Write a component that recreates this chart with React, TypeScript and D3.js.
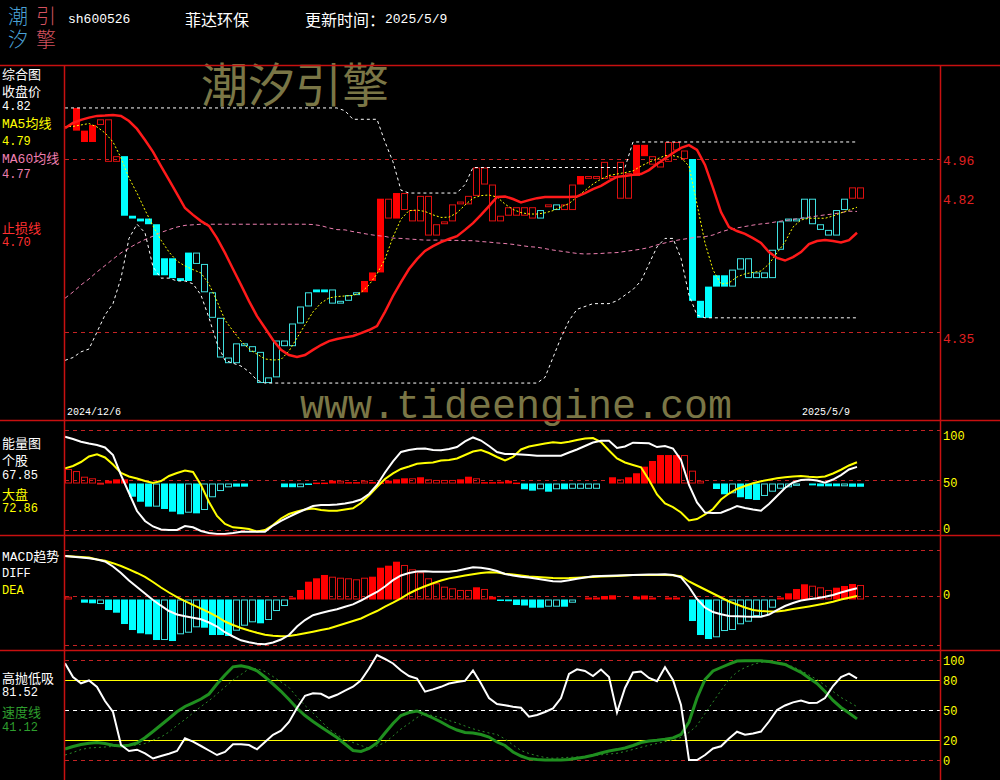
import * as React from "react"
import * as d3 from "d3"

document.body.style.margin = "0"
document.body.style.background = "#000"

// ---- data (100 trading days, 2024/12/6 .. 2025/5/9) ----
// candle kinds: R red filled, r red hollow, C cyan filled, c cyan hollow, - none
const candleKind =
  "-RRRrrrCCCC" + "CCCCCccccc" + "cccccccccc" + "CCccccRRRr" + "Rrrrrrrrrr" +
  "rrrrrrrrcr" + "crrRrrrrrr" + "RRrrrrrCCC" + "CCcccccccc" + "cccccccrr"

const candleOpen = [null, 5.06, 5.02, 5.02, 5.08, 4.95, 4.95, 4.97, 4.76, 4.75, 4.75,
  4.73, 4.61, 4.61, 4.54, 4.63, 4.59, 4.49, 4.40, 4.26, 4.24,
  4.24, 4.30, 4.28, 4.17, 4.17, 4.19, 4.30, 4.30, 4.38, 4.44,
  4.50, 4.50, 4.45, 4.45, 4.46, 4.48, 4.49, 4.53, 4.56, 4.75,
  4.75, 4.78, 4.74, 4.74, 4.69, 4.69, 4.73, 4.74, 4.80, 4.80,
  4.83, 4.87, 4.74, 4.74, 4.76, 4.76, 4.76, 4.75, 4.75, 4.79,
  4.78, 4.78, 4.78, 4.87, 4.89, 4.89, 4.89, 4.89, 4.82, 4.82,
  4.90, 4.97, 4.94, 4.93, 4.95, 4.99, 4.96, 4.96, 4.46, 4.51,
  4.55, 4.55, 4.51, 4.57, 4.54, 4.54, 4.54, 4.54, 4.64, 4.74,
  4.74, 4.75, 4.73, 4.71, 4.69, 4.69, 4.78, 4.82, 4.82]

const candleClose = [null, 5.14, 5.06, 5.08, 5.10, 5.10, 4.97, 4.76, 4.75, 4.74, 4.73,
  4.55, 4.55, 4.54, 4.53, 4.53, 4.63, 4.59, 4.49, 4.40, 4.26,
  4.31, 4.31, 4.30, 4.28, 4.19, 4.32, 4.32, 4.38, 4.44, 4.49,
  4.49, 4.49, 4.50, 4.46, 4.48, 4.49, 4.53, 4.56, 4.82, 4.82,
  4.84, 4.84, 4.78, 4.83, 4.83, 4.73, 4.74, 4.80, 4.81, 4.83,
  4.93, 4.93, 4.87, 4.76, 4.79, 4.79, 4.79, 4.79, 4.78, 4.80,
  4.80, 4.80, 4.87, 4.90, 4.90, 4.90, 4.95, 4.90, 4.95, 4.91,
  5.01, 5.01, 4.97, 4.95, 5.02, 5.02, 4.99, 4.46, 4.40, 4.40,
  4.51, 4.51, 4.57, 4.61, 4.61, 4.56, 4.56, 4.64, 4.74, 4.75,
  4.75, 4.82, 4.82, 4.73, 4.71, 4.78, 4.82, 4.86, 4.86]

const ma5 = [5.074, 5.075, 5.080, 5.085, 5.073, 5.052, 5.020, 4.964, 4.893, 4.840,
  4.780, 4.724, 4.674, 4.632, 4.600, 4.583, 4.570, 4.558, 4.519, 4.459,
  4.392, 4.354, 4.318, 4.290, 4.272, 4.255, 4.251, 4.253, 4.283, 4.329,
  4.375, 4.421, 4.452, 4.470, 4.475, 4.477, 4.479, 4.489, 4.516, 4.555,
  4.607, 4.685, 4.748, 4.778, 4.780, 4.775, 4.763, 4.754, 4.755, 4.770,
  4.798, 4.822, 4.831, 4.833, 4.826, 4.801, 4.782, 4.771, 4.766, 4.766,
  4.770, 4.778, 4.791, 4.803, 4.826, 4.849, 4.872, 4.889, 4.902, 4.907,
  4.912, 4.918, 4.935, 4.949, 4.960, 4.972, 4.972, 4.965, 4.935, 4.801,
  4.664, 4.569, 4.519, 4.523, 4.544, 4.555, 4.560, 4.565, 4.590, 4.629,
  4.667, 4.720, 4.745, 4.751, 4.751, 4.751, 4.759, 4.770, 4.780, 4.790]

const ma60 = [4.469, 4.491, 4.516, 4.537, 4.562, 4.584, 4.607, 4.629, 4.646, 4.662,
  4.676, 4.688, 4.701, 4.711, 4.720, 4.726, 4.728, 4.730, 4.730, 4.730,
  4.730, 4.730, 4.730, 4.730, 4.730, 4.730, 4.730, 4.730, 4.730, 4.730,
  4.730, 4.729, 4.725, 4.717, 4.711, 4.710, 4.704, 4.699, 4.694, 4.690,
  4.687, 4.681, 4.680, 4.678, 4.676, 4.674, 4.674, 4.674, 4.673, 4.673,
  4.672, 4.672, 4.669, 4.667, 4.664, 4.662, 4.659, 4.655, 4.651, 4.649,
  4.644, 4.639, 4.635, 4.631, 4.627, 4.625, 4.626, 4.627, 4.629, 4.630,
  4.634, 4.638, 4.642, 4.648, 4.657, 4.664, 4.671, 4.676, 4.680, 4.685,
  4.686, 4.692, 4.703, 4.711, 4.717, 4.722, 4.727, 4.731, 4.734, 4.739,
  4.743, 4.747, 4.751, 4.755, 4.759, 4.763, 4.766, 4.771, 4.776, 4.775]

const stopLine = [5.069, 5.087, 5.098, 5.106, 5.112, 5.113, 5.115, 5.112, 5.094, 5.066,
  5.027, 4.985, 4.935, 4.886, 4.837, 4.787, 4.763, 4.741, 4.724, 4.681,
  4.629, 4.572, 4.516, 4.459, 4.406, 4.364, 4.322, 4.287, 4.269, 4.262,
  4.269, 4.287, 4.304, 4.318, 4.325, 4.331, 4.336, 4.346, 4.357, 4.371,
  4.421, 4.477, 4.526, 4.572, 4.607, 4.636, 4.653, 4.667, 4.678, 4.688,
  4.710, 4.734, 4.763, 4.794, 4.826, 4.828, 4.819, 4.807, 4.815, 4.822,
  4.826, 4.826, 4.826, 4.826, 4.828, 4.840, 4.854, 4.865, 4.882, 4.897,
  4.900, 4.904, 4.907, 4.921, 4.942, 4.962, 4.981, 4.999, 5.009, 4.992,
  4.939, 4.858, 4.773, 4.720, 4.706, 4.696, 4.681, 4.664, 4.632, 4.611,
  4.602, 4.614, 4.632, 4.660, 4.671, 4.674, 4.671, 4.666, 4.674, 4.700]

const upperBand = [
  5.14, 5.14, 5.14, 5.14, 5.14, 5.14, 5.14, 5.14, 5.14, 5.14,
  5.14, 5.14, 5.14, 5.14, 5.14, 5.14, 5.14, 5.14, 5.14, 5.14,
  5.14, 5.14, 5.14, 5.14, 5.14, 5.14, 5.14, 5.14, 5.14, 5.14,
  5.14, 5.14, 5.14, 5.14, 5.14, 5.13, 5.10, 5.10, 5.10, 5.10,
  5.02, 4.95, 4.85, 4.84, 4.84, 4.84, 4.84, 4.84, 4.84, 4.84,
  4.87, 4.93, 4.93, 4.93, 4.93, 4.93, 4.93, 4.93, 4.93, 4.93,
  4.93, 4.93, 4.93, 4.93, 4.93, 4.93, 4.93, 4.93, 4.93, 4.93,
  4.93, 5.02, 5.02, 5.02, 5.02, 5.02, 5.02, 5.02, 5.02, 5.02,
  5.02, 5.02, 5.02, 5.02, 5.02, 5.02, 5.02, 5.02, 5.02, 5.02,
  5.02, 5.02, 5.02, 5.02, 5.02, 5.02, 5.02, 5.02, 5.02, 5.02]

const lowerBand = [
  4.25, 4.26, 4.28, 4.29, 4.35, 4.41, 4.45, 4.54, 4.68, 4.73,
  4.70, 4.58, 4.54, 4.54, 4.53, 4.53, 4.52, 4.48, 4.40, 4.31,
  4.25, 4.24, 4.23, 4.21, 4.18, 4.17, 4.17, 4.17, 4.17, 4.17,
  4.17, 4.17, 4.17, 4.17, 4.17, 4.17, 4.17, 4.17, 4.17, 4.17,
  4.17, 4.17, 4.17, 4.17, 4.17, 4.17, 4.17, 4.17, 4.17, 4.17,
  4.17, 4.17, 4.17, 4.17, 4.17, 4.17, 4.17, 4.17, 4.17, 4.17,
  4.19, 4.26, 4.33, 4.39, 4.43, 4.44, 4.45, 4.45, 4.45, 4.46,
  4.48, 4.50, 4.53, 4.59, 4.65, 4.68, 4.68, 4.61, 4.48, 4.41,
  4.40, 4.40, 4.40, 4.40, 4.40, 4.40, 4.40, 4.40, 4.40, 4.40,
  4.40, 4.40, 4.40, 4.40, 4.40, 4.40, 4.40, 4.40, 4.40, 4.40]

const energyStock = [100.3, 97.8, 94.9, 93.0, 91.4, 88.7, 80.6, 59.1, 39.8, 20.4,
  9.7, 3.8, 0.5, 0, 0, 4.3, 2.9, -1.1, -3.2, -4.3,
  -4.3, -3.2, -1.8, -1.8, -1.8, -1.8, 4.8, 9.7, 14.0, 18.3,
  22.0, 25.8, 26.9, 26.9, 27.4, 28.5, 30.1, 32.8, 38.7, 48.4,
  61.8, 73.7, 83.9, 86.0, 87.4, 87.6, 86.0, 85.7, 87.1, 89.2,
  95.2, 99.5, 96.2, 90.3, 83.9, 81.7, 81.7, 81.2, 80.6, 79.9,
  79.9, 79.9, 79.9, 83.3, 86.6, 90.3, 94.1, 96.0, 96.0, 88.2,
  89.8, 93.9, 93.5, 93.2, 89.2, 90.3, 87.6, 75.3, 48.4, 29.6,
  18.8, 18.3, 18.6, 22.0, 25.8, 23.7, 22.0, 20.8, 28.0, 36.6,
  45.2, 51.1, 53.8, 54.3, 53.2, 50.9, 54.3, 59.1, 65.1, 67.85]

const energyMarket = [66.3, 68.8, 73.1, 79.0, 81.4, 78.0, 70.4, 61.3, 57.5, 55.4,
  52.7, 50.5, 52.7, 58.1, 61.3, 64.0, 62.4, 48.4, 30.1, 15.1,
  6.5, 2.9, 2.2, 1.1, -1.6, 0, 5.4, 12.4, 17.2, 19.9,
  22.0, 23.1, 21.5, 20.8, 20.8, 22.0, 23.3, 29.0, 37.1, 46.2,
  54.8, 60.8, 65.6, 68.3, 71.3, 72.0, 72.6, 74.7, 75.3, 76.9,
  80.6, 84.4, 86.0, 82.8, 78.5, 74.7, 78.5, 86.6, 89.8, 91.4,
  93.0, 94.3, 93.5, 94.9, 96.8, 98.4, 98.9, 94.6, 85.5, 76.9,
  72.6, 69.9, 67.4, 53.8, 38.2, 28.5, 24.5, 18.8, 10.2, 11.8,
  16.7, 22.6, 32.8, 39.2, 44.1, 47.3, 50.3, 52.4, 54.1, 55.6,
  56.8, 57.5, 58.1, 57.3, 56.7, 57.5, 60.8, 64.8, 69.4, 72.86]

const energyBars = [65.6, 63.4, 57.3, 55.6, 50.9, 53.0, 54.5, 54.5, 35.8, 30.4,
  25.1, 25.1, 22.6, 19.7, 16.9, 18.6, 17.9, 21.5, 35.2, 41.9,
  45.9, 46.6, 46.6, 50, 50, 50, 50, 46.0, 46.0, 46.0,
  48.5, 51.0, 51.0, 53.0, 53.0, 51.5, 51.5, 53.0, 51.5, 51.0,
  53.0, 54.5, 55.6, 55.6, 56.7, 54.5, 53.8, 53.8, 53.8, 54.5,
  57.3, 55.6, 51.5, 51.5, 51.9, 53.0, 51.0, 43.8, 42.3, 43.8,
  41.2, 43.8, 43.8, 44.3, 44.3, 44.3, 44.3, 50, 56.7, 54.5,
  56.7, 61.0, 68.1, 74.2, 80.6, 80.6, 80.6, 80.6, 63.8, 53.0,
  50, 44.1, 38.4, 39.5, 35.2, 33.3, 32.3, 36.6, 41.2, 44.4,
  45.9, 47.5, 50, 48.0, 47.0, 47.0, 47.0, 47.0, 46.5, 46.5]

const energyKind =
  "rrrrrRRRCC" + "CcCCCcCccc" + "cCC----CCc" + "CRRRrRRrRR" + "RRRrRrrrrR" +
  "RrRRRRRCCc" + "CcCcccc-Rr" + "RRRRRRRrrr" + "-CCcCCCccc" + "cc-CCCCcCC"

const macdDiff = [0.0988, 0.0968, 0.0950, 0.0933, 0.0900, 0.0850, 0.0725, 0.0563, 0.0375, 0.0213,
  0.0050, -0.0113, -0.0255, -0.0388, -0.0475, -0.0520, -0.0558, -0.0593, -0.0675, -0.0775,
  -0.0918, -0.1025, -0.1120, -0.1170, -0.1205, -0.1218, -0.1173, -0.1100, -0.0988, -0.0775,
  -0.0613, -0.0493, -0.0438, -0.0388, -0.0343, -0.0280, -0.0223, -0.0125, -0.0013, 0.0088,
  0.0225, 0.0383, 0.0500, 0.0563, 0.0600, 0.0605, 0.0595, 0.0595, 0.0595, 0.0618,
  0.0663, 0.0705, 0.0693, 0.0663, 0.0613, 0.0538, 0.0500, 0.0468, 0.0450, 0.0420,
  0.0388, 0.0358, 0.0348, 0.0383, 0.0418, 0.0450, 0.0480, 0.0488, 0.0493, 0.0500,
  0.0508, 0.0513, 0.0518, 0.0523, 0.0525, 0.0530, 0.0513, 0.0455, 0.0213, -0.0088,
  -0.0300, -0.0413, -0.0470, -0.0510, -0.0520, -0.0528, -0.0530, -0.0530, -0.0475, -0.0363,
  -0.0263, -0.0188, -0.0125, -0.0095, -0.0068, -0.0030, 0.0013, 0.0075, 0.0130, 0.0180]

const macdDea = [0.0988, 0.0975, 0.0963, 0.0950, 0.0900, 0.0870, 0.0808, 0.0738, 0.0655, 0.0563,
  0.0463, 0.0338, 0.0200, 0.0075, -0.0038, -0.0138, -0.0233, -0.0328, -0.0420, -0.0525,
  -0.0650, -0.0738, -0.0813, -0.0875, -0.0930, -0.0980, -0.1005, -0.1020, -0.1013, -0.0983,
  -0.0945, -0.0905, -0.0865, -0.0825, -0.0763, -0.0700, -0.0638, -0.0575, -0.0480, -0.0388,
  -0.0278, -0.0180, -0.0070, 0.0050, 0.0150, 0.0230, 0.0305, 0.0373, 0.0428, 0.0465,
  0.0500, 0.0533, 0.0563, 0.0580, 0.0575, 0.0543, 0.0523, 0.0498, 0.0475, 0.0463,
  0.0450, 0.0438, 0.0433, 0.0435, 0.0445, 0.0455, 0.0463, 0.0473, 0.0480, 0.0488,
  0.0498, 0.0510, 0.0513, 0.0513, 0.0513, 0.0513, 0.0508, 0.0483, 0.0350, 0.0250,
  0.0150, 0.0050, -0.0050, -0.0150, -0.0225, -0.0300, -0.0363, -0.0388, -0.0403, -0.0398,
  -0.0375, -0.0340, -0.0308, -0.0273, -0.0238, -0.0200, -0.0155, -0.0100, -0.0058, -0.0013]

const macdHist = [0.0070, 0, -0.0080, -0.0095, -0.0113, -0.0263, -0.0330, -0.0613, -0.0763, -0.0845,
  -0.0870, -0.1013, -0.1013, -0.1038, -0.0870, -0.0830, -0.0695, -0.0705, -0.0888, -0.0888,
  -0.0913, -0.0780, -0.0655, -0.0570, -0.0595, -0.0513, -0.0288, -0.0163, 0.0050, 0.0238,
  0.0445, 0.0530, 0.0613, 0.0570, 0.0545, 0.0530, 0.0505, 0.0545, 0.0570, 0.0795,
  0.0845, 0.0945, 0.0863, 0.0755, 0.0680, 0.0530, 0.0405, 0.0320, 0.0280, 0.0238,
  0.0238, 0.0305, 0.0263, 0.0070, -0.0025, -0.0043, -0.0138, -0.0150, -0.0205, -0.0205,
  -0.0180, -0.0180, -0.0180, -0.0080, 0, 0.0050, 0.0050, 0.0088, 0.0105, 0,
  0, 0.0075, 0.0100, 0.0050, 0, 0.0050, 0.0050, 0, -0.0538, -0.0888,
  -0.0988, -0.0945, -0.0788, -0.0763, -0.0620, -0.0555, -0.0413, -0.0413, -0.0205, 0.0050,
  0.0155, 0.0263, 0.0380, 0.0345, 0.0305, 0.0238, 0.0295, 0.0338, 0.0388, 0.0363]

const macdKind =
  "r-CCcCCCCC" + "CCcCcccCCC" + "CcccCcccRR" + "RRRrrrrrRR" + "RRrrrrrrrr" +
  "rRrRCCCCCC" + "ccCc-RRRR-" + "-RRR-RR-CC" + "CccccccccR" + "RRRrrrRRRr"

const tideLine = [96.7, 83, 76.7, 79.5, 73, 59, 48, 15, 9, 10.3,
  6.7, 1.5, 4, 6.3, 9, 21.7, 18.4, 14, 9.5, 5,
  8, 15.8, 15.8, 15, 10.7, 18, 25.2, 29.4, 38, 52,
  64.2, 66.7, 66.2, 62.2, 65.2, 69.4, 73.3, 79.7, 91.5, 105,
  101, 96.5, 89.5, 84, 81.5, 68.3, 70.6, 73.2, 76.5, 78.1,
  79.2, 89.5, 76.5, 62, 56, 54.8, 53.3, 52.2, 43.3, 45,
  48, 51.6, 62, 86, 90.7, 89, 84, 90.5, 83, 47.5,
  72, 87.5, 88.5, 82, 78.8, 92.7, 80, 55, 0, 0,
  5, 11.5, 13.7, 21.5, 28.3, 25.2, 26.5, 28.5, 38.5, 50,
  54.5, 57.6, 59.5, 57, 57.2, 62, 74, 83, 86.3, 81.52]

const speedLine = [11, 13.5, 15.5, 16.8, 17.5, 16.5, 14.8, 14, 14.7, 17,
  22.2, 28.5, 35, 41.5, 48.2, 53.5, 57.2, 61, 66, 76,
  85, 93.2, 94.2, 92.5, 89.1, 83, 76, 68.7, 60.5, 51.7,
  44.5, 38.5, 33, 27.8, 22.5, 16, 9.5, 8.5, 11.5, 17,
  27, 36.5, 44.5, 47.5, 49, 45.5, 42, 38, 33.5, 30,
  27.5, 27, 25.5, 23, 18, 14.5, 8, 4, 1.2, 0.5,
  0, 0, 0, 0.4, 1.7, 3, 4.8, 7, 9, 10.4,
  12, 14.5, 17.5, 19, 19.7, 20.8, 22.1, 25.5, 38, 62,
  80.5, 89, 92.5, 95.8, 99, 99.2, 99.3, 99.2, 98.4, 97,
  95.5, 91.5, 87.7, 82, 76.5, 68.5, 59.5, 52.5, 47, 41.12]

const speedSignal = [5, 7.5, 10.5, 12, 12.5, 13, 13.5, 14, 14.5, 15,
  16.5, 20, 23, 28, 34.7, 40.5, 47, 53.5, 59.3, 66,
  73, 80, 85.5, 91.2, 91.5, 88.5, 83.5, 78, 72.5, 63,
  54.5, 47, 39, 31, 25.5, 20, 17.5, 14.5, 11.7, 14,
  17.5, 24, 31, 36.5, 42.5, 46.5, 44.2, 42.3, 39.5, 37,
  34, 31.2, 29, 27, 25.5, 21, 15, 9.5, 6.5, 4.3,
  2.5, 1.7, 2.2, 2.7, 3, 3.4, 4.3, 5.2, 6, 6.7,
  8.5, 10.5, 12.7, 14.8, 16.5, 18.4, 20, 22.5, 27.5, 34.5,
  46.5, 58, 69.5, 80.5, 88, 92.5, 95.5, 97.7, 98, 97.3,
  96.5, 93.2, 89.5, 85, 80.5, 74.5, 68.5, 62.5, 58, 53.3]

const priceTicks = [4.96, 4.82, 4.35]
const energyTicks = [100, 50, 0]
const tideTicks = [100, 80, 50, 20, 0]
const dateLabels = ["2024/12/6", "2025/5/9"]
const legendValues = { close: "4.82", ma5: "4.79", ma60: "4.77", stop: "4.70", stock: "67.85", market: "72.86", tide: "81.52", speed: "41.12" }

// ---- layout ----
const RED = "#ff0000"
const RED_LINE = "#dd1010"
const CYAN = "#00ffff"
const CYAN_LINE = "#3fe0e0"
const FRAME = "#c81010"
const GRID = "#c42424"
const YELLOW = "#ffff00"
const PINK = "#ee7fb0"
const GREEN = "#1f8f1f"
const OLIVE = "#7a7646"
const MONO = "'Liberation Mono','Noto Sans CJK SC',monospace"
const CJK = "'Noto Sans CJK SC','Liberation Mono',sans-serif"

const x = d3.scaleLinear().domain([0, 99]).range([65, 857])
const yPrice = d3.scaleLinear().domain([4.35, 4.96]).range([332, 159])
const yEnergy = d3.scaleLinear().domain([0, 100]).range([530, 437])
const yMacd = d3.scaleLinear().domain([-0.1, 0.1]).range([635.5, 555.5])
const yHist = d3.scaleLinear().domain([-0.1, 0.1]).range([639.5, 559.5])
const yTide = d3.scaleLinear().domain([0, 100]).range([760, 660])

function linePath(values: number[], y: d3.ScaleLinear<number, number>) {
  return d3
    .line<number>()
    .x((_, i) => x(i))
    .y((d) => y(d))(values) as string
}

function Box({ j, y0, y1, kind }: { j: number; y0: number; y1: number; kind: string }) {
  const top = Math.min(y0, y1)
  const h = Math.max(1, Math.abs(y1 - y0))
  const isRed = kind === "R" || kind === "r"
  const filled = kind === "R" || kind === "C"
  if (filled) {
    return <rect x={x(j)} y={top} width={7} height={Math.max(1.5, h)} fill={isRed ? RED : CYAN} />
  }
  return (
    <rect
      x={x(j) + 0.5}
      y={top + 0.5}
      width={6}
      height={Math.max(1, h - 1)}
      fill="none"
      stroke={isRed ? RED_LINE : CYAN_LINE}
      strokeWidth={1}
    />
  )
}

// grid line snapped to the pixel grid so 1px strokes stay crisp
function HLine({ y, x1 = 65, x2 = 940, color = GRID, dash = "4,4", w = 1 }: any) {
  const yy = Math.round(y) + 0.5
  return <line x1={x1} x2={x2} y1={yy} y2={yy} stroke={color} strokeWidth={w} strokeDasharray={dash} />
}

function Label({ x: lx, y, text, color = "#fff", size = 13, font = MONO }: any) {
  return (
    <text x={lx} y={y} fill={color} fontSize={size} fontFamily={font} dominantBaseline="central">
      {text}
    </text>
  )
}

export default function App() {
  const days = d3.range(100)
  return (
    <svg width={1000} height={780} style={{ display: "block", background: "#000" }}>
      {/* header: logo as two vertical columns */}
      <text x={18} y={6} fontSize={20} fontFamily={CJK} fontWeight={300} fill="#4aa3d8"
        style={{ writingMode: "vertical-rl" }} letterSpacing={3}>潮汐</text>
      <text x={46} y={6} fontSize={20} fontFamily={CJK} fontWeight={300} fill="#d3525f"
        style={{ writingMode: "vertical-rl" }} letterSpacing={3}>引擎</text>
      <Label x={68} y={19} text="sh600526" size={13} />
      <Label x={185} y={19} text="菲达环保" size={16} font={CJK} />
      <Label x={305} y={19} text="更新时间：" size={16} font={CJK} />
      <Label x={385} y={19} text="2025/5/9" size={13} />

      {/* watermarks */}
      <text x={201} y={102} fontSize={47} fontFamily={CJK} fill={OLIVE}>潮汐引擎</text>
      <text x={300} y={418} fontSize={40} fontFamily="'Liberation Mono',monospace" fill={OLIVE}>www.tideengine.com</text>

      {/* main panel grid */}
      <HLine y={yPrice(4.96)} />
      <HLine y={yPrice(4.35)} />
      {priceTicks.map((t) => (
        <Label key={t} x={943} y={yPrice(t) + (t === 4.35 ? 7 : 2)} text={t.toFixed(2)} color="#e02020" size={13} />
      ))}

      {/* candles */}
      {days.map((j) =>
        candleKind[j] === "-" ? null : (
          <Box key={"k" + j} j={j} y0={yPrice(candleOpen[j] as number)} y1={yPrice(candleClose[j] as number)} kind={candleKind[j]} />
        )
      )}

      {/* main lines */}
      <path d={linePath(upperBand, yPrice)} fill="none" stroke="#fff" strokeWidth={1} strokeDasharray="3,3" />
      <path d={linePath(lowerBand, yPrice)} fill="none" stroke="#fff" strokeWidth={1} strokeDasharray="3,3" />
      <path d={linePath(ma60, yPrice)} fill="none" stroke={PINK} strokeWidth={1} strokeDasharray="4,3" />
      <path d={linePath(ma5, yPrice)} fill="none" stroke={YELLOW} strokeWidth={1} strokeDasharray="2,2" />
      <path d={linePath(stopLine, yPrice)} fill="none" stroke="#ff1a1a" strokeWidth={2.5} />

      <Label x={67} y={412} text={dateLabels[0]} size={10} />
      <Label x={802} y={412} text={dateLabels[1]} size={10} />

      {/* energy panel */}
      <HLine y={430} />
      <HLine y={480} />
      <HLine y={530} />
      {energyTicks.map((t) => (
        <Label key={"e" + t} x={943} y={yEnergy(t)} text={String(t)} color={YELLOW} size={12} />
      ))}
      {days.map((j) =>
        energyKind[j] === "-" ? null : (
          <Box key={"e" + j} j={j} y0={yEnergy(50)} y1={yEnergy(energyBars[j])} kind={energyKind[j]} />
        )
      )}
      <path d={linePath(energyMarket, yEnergy)} fill="none" stroke={YELLOW} strokeWidth={2} />
      <path d={linePath(energyStock, yEnergy)} fill="none" stroke="#fff" strokeWidth={2} />

      {/* MACD panel */}
      <HLine y={550} />
      <HLine y={yMacd(0)} />
      <HLine y={645} />
      <Label x={943} y={yMacd(0)} text="0" color={YELLOW} size={12} />
      {days.map((j) =>
        macdKind[j] === "-" ? null : (
          <Box key={"m" + j} j={j} y0={yHist(0)} y1={yHist(macdHist[j])} kind={macdKind[j]} />
        )
      )}
      <path d={linePath(macdDea, yMacd)} fill="none" stroke={YELLOW} strokeWidth={2} />
      <path d={linePath(macdDiff, yMacd)} fill="none" stroke="#fff" strokeWidth={2} />

      {/* tide panel */}
      <HLine y={yTide(100)} />
      <HLine y={yTide(80)} color={YELLOW} dash="none" />
      <HLine y={yTide(50)} color="#fff" dash="4,4" />
      <HLine y={yTide(20)} color={YELLOW} dash="none" />
      <HLine y={yTide(0)} />
      {tideTicks.map((t) => (
        <Label key={"t" + t} x={943} y={yTide(t) + 1.5} text={String(t)} color={YELLOW} size={12} />
      ))}
      <path d={linePath(speedSignal, yTide)} fill="none" stroke="#2a8a2a" strokeWidth={1} strokeDasharray="2,3" />
      <path d={linePath(speedLine, yTide)} fill="none" stroke={GREEN} strokeWidth={3} />
      <path d={linePath(tideLine, yTide)} fill="none" stroke="#fff" strokeWidth={2} />

      {/* left legends */}
      <Label x={2} y={73} text="综合图" size={13} font={CJK} />
      <Label x={2} y={90} text="收盘价" size={13} font={CJK} />
      <Label x={2} y={107} text={legendValues.close} size={12} />
      <Label x={2} y={124} text="MA5均线" size={13} color={YELLOW} />
      <Label x={2} y={142} text={legendValues.ma5} size={12} color={YELLOW} />
      <Label x={2} y={159} text="MA60均线" size={13} color={PINK} />
      <Label x={2} y={175} text={legendValues.ma60} size={12} color={PINK} />
      <Label x={2} y={227} text="止损线" size={13} font={CJK} color="#ff3030" />
      <Label x={2} y={243} text={legendValues.stop} size={12} color="#ff3030" />

      <Label x={2} y={442} text="能量图" size={13} font={CJK} />
      <Label x={2} y={459} text="个股" size={13} font={CJK} />
      <Label x={2} y={476} text={legendValues.stock} size={12} />
      <Label x={2} y={493} text="大盘" size={13} font={CJK} color={YELLOW} />
      <Label x={2} y={509} text={legendValues.market} size={12} color={YELLOW} />

      <Label x={2} y={557} text="MACD趋势" size={13} />
      <Label x={2} y={574} text="DIFF" size={12} />
      <Label x={2} y={591} text="DEA" size={12} color={YELLOW} />

      <Label x={2} y={677} text="高抛低吸" size={13} font={CJK} />
      <Label x={2} y={693} text={legendValues.tide} size={12} />
      <Label x={2} y={711} text="速度线" size={13} font={CJK} color="#2e9e2e" />
      <Label x={2} y={728} text={legendValues.speed} size={12} color="#2e9e2e" />

      {/* frame */}
      <line x1={0} x2={1000} y1={65.5} y2={65.5} stroke={FRAME} strokeWidth={1.5} />
      <line x1={0} x2={1000} y1={420.5} y2={420.5} stroke={FRAME} strokeWidth={1.5} />
      <line x1={0} x2={1000} y1={535.5} y2={535.5} stroke={FRAME} strokeWidth={1.5} />
      <line x1={0} x2={1000} y1={650.5} y2={650.5} stroke={FRAME} strokeWidth={1.5} />
      <line x1={64.5} x2={64.5} y1={65} y2={780} stroke={FRAME} strokeWidth={1.5} />
      <line x1={940.5} x2={940.5} y1={65} y2={780} stroke={FRAME} strokeWidth={1.5} />
    </svg>
  )
}
